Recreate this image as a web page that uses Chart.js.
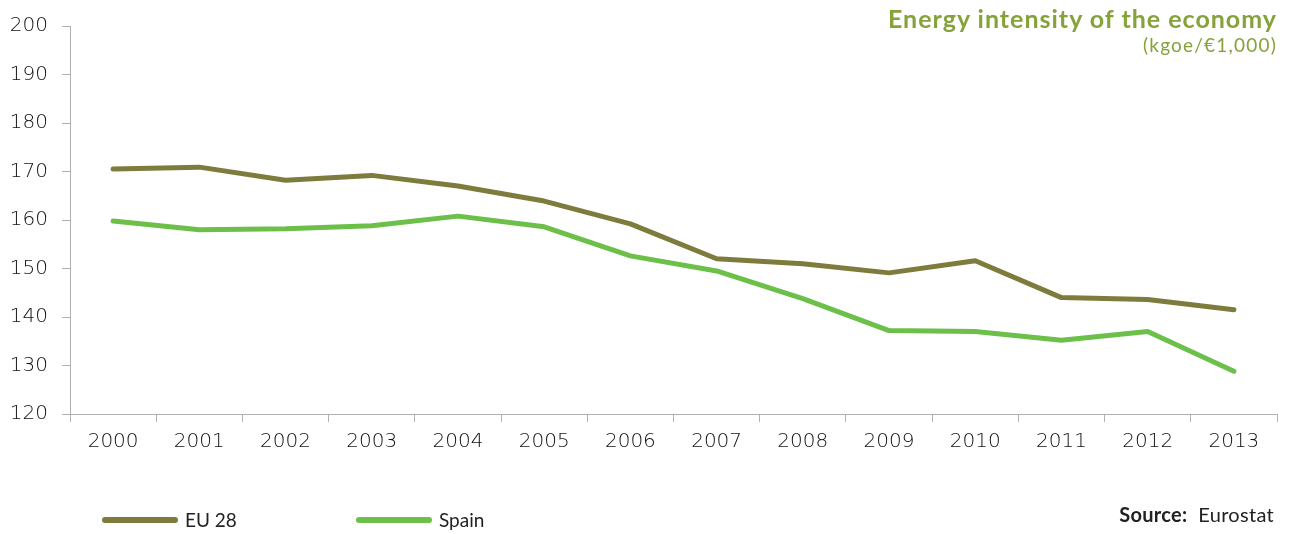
<!DOCTYPE html>
<html>
<head>
<meta charset="utf-8">
<script src="https://cdn.jsdelivr.net/npm/chart.js@4"></script>
<style>
  html, body { margin: 0; padding: 0; background: #fff; }
  #wrap { position: relative; width: 1290px; height: 534px; font-family: Lato, "Open Sans", sans-serif; }
  #c { position: absolute; left: 0; top: 0; }
  .title { position: absolute; right: 13px; top: 3px; color: #86a23a; font-weight: bold; font-size: 25px; white-space: nowrap; letter-spacing: 1.0px; }
  .sub { position: absolute; right: 13px; top: 33px; color: #86a23a; font-size: 19px; white-space: nowrap; letter-spacing: 1.2px; }
  .leg { position: absolute; top: 508px; display: flex; align-items: center; font-size: 19px; color: #222; }
  .leg span.ln { display: inline-block; width: 76px; height: 6px; border-radius: 3px; margin-right: 7px; }
  .src { position: absolute; right: 16px; top: 502px; font-size: 20px; color: #222; letter-spacing: 0.3px; }
</style>
</head>
<body>
<div id="wrap">
  <canvas id="c" width="1290" height="534"></canvas>
  <div class="title">Energy intensity of the economy</div>
  <div class="sub">(kgoe/€1,000)</div>
  <div class="leg" id="leg1" style="left:102px"><span class="ln"></span><span class="tx"></span></div>
  <div class="leg" id="leg2" style="left:356px"><span class="ln"></span><span class="tx"></span></div>
  <div class="src"><b>Source:</b>&nbsp; Eurostat</div>
</div>
<script>
const years = ['2000','2001','2002','2003','2004','2005','2006','2007','2008','2009','2010','2011','2012','2013'];
const eu28 = [170.5, 170.9, 168.2, 169.2, 167.0, 163.9, 159.2, 152.0, 151.0, 149.1, 151.6, 144.0, 143.6, 141.5];
const spain = [159.8, 158.0, 158.2, 158.8, 160.8, 158.6, 152.6, 149.5, 143.8, 137.2, 137.0, 135.2, 137.0, 128.8];
const seriesNames = ['EU 28', 'Spain'];
const seriesColors = ['#7d7c3d', '#6cc04a'];
const yTicks = [120, 130, 140, 150, 160, 170, 180, 190, 200];

const ds = [eu28, spain].map((d, i) => ({
  label: seriesNames[i],
  data: d,
  borderColor: seriesColors[i],
  backgroundColor: seriesColors[i],
  borderWidth: 5,
  borderCapStyle: 'round',
  borderJoinStyle: 'round',
  pointRadius: 0,
  pointHoverRadius: 0,
  tension: 0,
  fill: false
}));

['leg1','leg2'].forEach((id, i) => {
  const el = document.getElementById(id);
  el.querySelector('.ln').style.background = seriesColors[i];
  el.querySelector('.tx').textContent = seriesNames[i];
});

const tickFont = { family: 'DejaVu Sans', size: 20, weight: 200 };

new Chart(document.getElementById('c'), {
  type: 'line',
  data: { labels: years, datasets: ds },
  options: {
    responsive: false,
    animation: false,
    devicePixelRatio: 1,
    layout: { padding: { top: 24, right: 13, left: 0, bottom: 0 } },
    plugins: { legend: { display: false }, tooltip: { enabled: false }, title: { display: false } },
    scales: {
      x: {
        offset: true,
        grid: { offset: true, drawOnChartArea: false, drawTicks: true, tickLength: 8, color: '#b0b0b0', lineWidth: 1 },
        border: { color: '#b0b0b0', width: 1 },
        ticks: { color: '#111', font: tickFont, padding: 8, maxRotation: 0 },
        afterFit: s => { s.height = 120; }
      },
      y: {
        min: 120, max: 200,
        afterBuildTicks: s => { s.ticks = yTicks.map(v => ({ value: v })); },
        grid: { drawOnChartArea: false, drawTicks: true, tickLength: 8, color: '#b0b0b0', lineWidth: 1 },
        border: { color: '#b0b0b0', width: 1 },
        ticks: { color: '#111', font: tickFont, padding: 14 },
        afterFit: s => { s.width = 70; }
      }
    }
  }
});
</script>
</body>
</html>
